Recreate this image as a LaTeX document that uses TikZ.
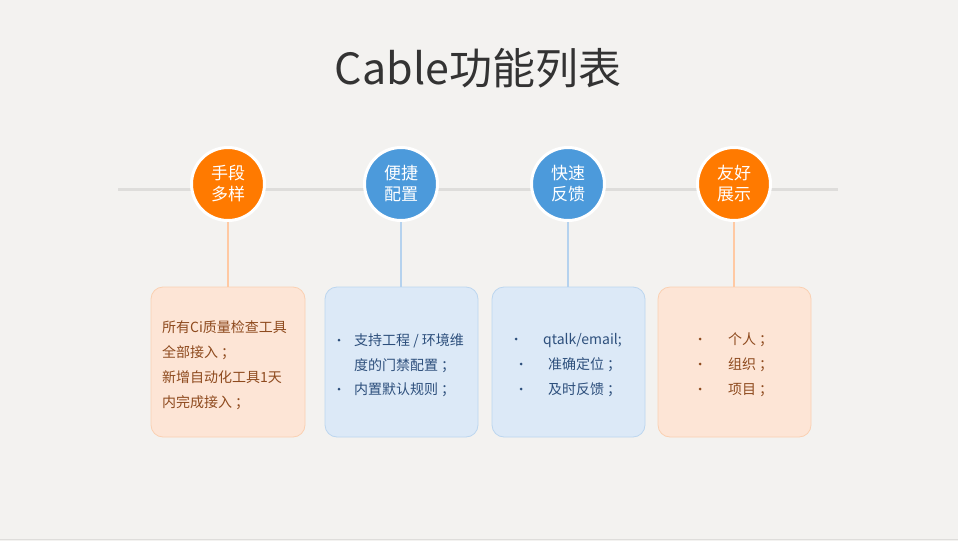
\documentclass[tikz,border=0pt]{standalone}
\usepackage{fontspec}
\newfontfamily\cjk{Noto Sans CJK SC}
\definecolor{bg}{HTML}{F3F2F0}
\definecolor{orangeA}{HTML}{FF7A00}
\definecolor{blueA}{HTML}{4C9ADB}
\definecolor{orangeL}{HTML}{FDE5D6}
\definecolor{orangeB}{HTML}{FAD0B2}
\definecolor{blueL}{HTML}{DCE9F7}
\definecolor{blueB}{HTML}{BCD6EF}
\definecolor{orangeV}{HTML}{FFC9A3}
\definecolor{blueV}{HTML}{B5D2EE}
\definecolor{brownT}{HTML}{8E4A1E}
\definecolor{blueT}{HTML}{2D4F7C}
\definecolor{lineG}{HTML}{DEDDDB}
\newcommand{\semi}{\hspace{3pt}；}
\begin{document}
\begin{tikzpicture}[x=1pt,y=-1pt,
  hub/.style={circle,minimum size=73pt,inner sep=0pt,draw=white,line width=3pt,text=white,align=center,font=\cjk\fontsize{17}{21}\selectfont},
  card/.style={rounded corners=12pt,line width=0.8pt},
  txt/.style={anchor=base west,inner sep=0pt,font=\cjk\fontsize{14}{16}\selectfont},
  dot/.style={circle,inner sep=0pt,minimum size=3pt}
]
\useasboundingbox[fill=bg] (0,0) rectangle (958,541);
\draw[draw=lineG,line width=0.8pt] (0,539.5) -- (958,539.5);
\node[inner sep=0pt,text=black!80,font=\cjk\fontsize{43}{47}\selectfont] (title) at (478,68) {Cable功能列表};
\coordinate (lL) at (118,189);
\coordinate (lR) at (838,189);
\draw[lineG,line width=3pt] (lL) -- (lR);
% cards
\draw[card,fill=orangeL,draw=orangeB] (151,287) rectangle (305,437);
\draw[card,fill=blueL,draw=blueB] (325,287) rectangle (478,437);
\draw[card,fill=blueL,draw=blueB] (492,287) rectangle (645,437);
\draw[card,fill=orangeL,draw=orangeB] (658,287) rectangle (811,437);
\coordinate (c1) at (228,287);
\coordinate (c2) at (401,287);
\coordinate (c3) at (568,287);
\coordinate (c4) at (734,287);
% hubs
\node[hub,fill=orangeA] (h1) at (228,184) {手段\\多样};
\node[hub,fill=blueA] (h2) at (401,184) {便捷\\配置};
\node[hub,fill=blueA] (h3) at (568,184) {快速\\反馈};
\node[hub,fill=orangeA] (h4) at (734,184) {友好\\展示};
\draw[orangeV,line width=1.5pt] (h1.south) -- (c1);
\draw[blueV,line width=1.5pt] (h2.south) -- (c2);
\draw[blueV,line width=1.5pt] (h3.south) -- (c3);
\draw[orangeV,line width=1.5pt] (h4.south) -- (c4);
% card 1
\node[txt,text=brownT] (a1) at (162,332) {所有Ci质量检查工具};
\node[txt,text=brownT] (a2) at (162,357) {全部接入\semi};
\node[txt,text=brownT] (a3) at (162,382) {新增自动化工具1天};
\node[txt,text=brownT] (a4) at (162,407) {内完成接入\semi};
% card 2
\node[dot,fill=blueT] (b1d) at (339,340) {};
\node[dot,fill=blueT] (b2d) at (339,389) {};
\node[txt,text=blueT] (b1) at (354,345) {支持工程 / 环境维};
\node[txt,text=blueT] (b2) at (354,370) {度的门禁配置\semi};
\node[txt,text=blueT] (b3) at (354,394) {内置默认规则\semi};
% card 3
\node[dot,fill=blueT] (d1d) at (516,339) {};
\node[dot,fill=blueT] (d2d) at (521,364) {};
\node[dot,fill=blueT] (d3d) at (521,389) {};
\node[txt,text=blueT] (d1) at (543,344) {qtalk/email;};
\node[txt,text=blueT] (d2) at (548,369) {准确定位\semi};
\node[txt,text=blueT] (d3) at (548,394) {及时反馈\semi};
% card 4
\node[dot,fill=brownT] (e1d) at (700,339) {};
\node[dot,fill=brownT] (e2d) at (700,364) {};
\node[dot,fill=brownT] (e3d) at (700,389) {};
\node[txt,text=brownT] (e1) at (728,344) {个人\semi};
\node[txt,text=brownT] (e2) at (728,369) {组织\semi};
\node[txt,text=brownT] (e3) at (728,394) {项目\semi};
\end{tikzpicture}
\end{document}
